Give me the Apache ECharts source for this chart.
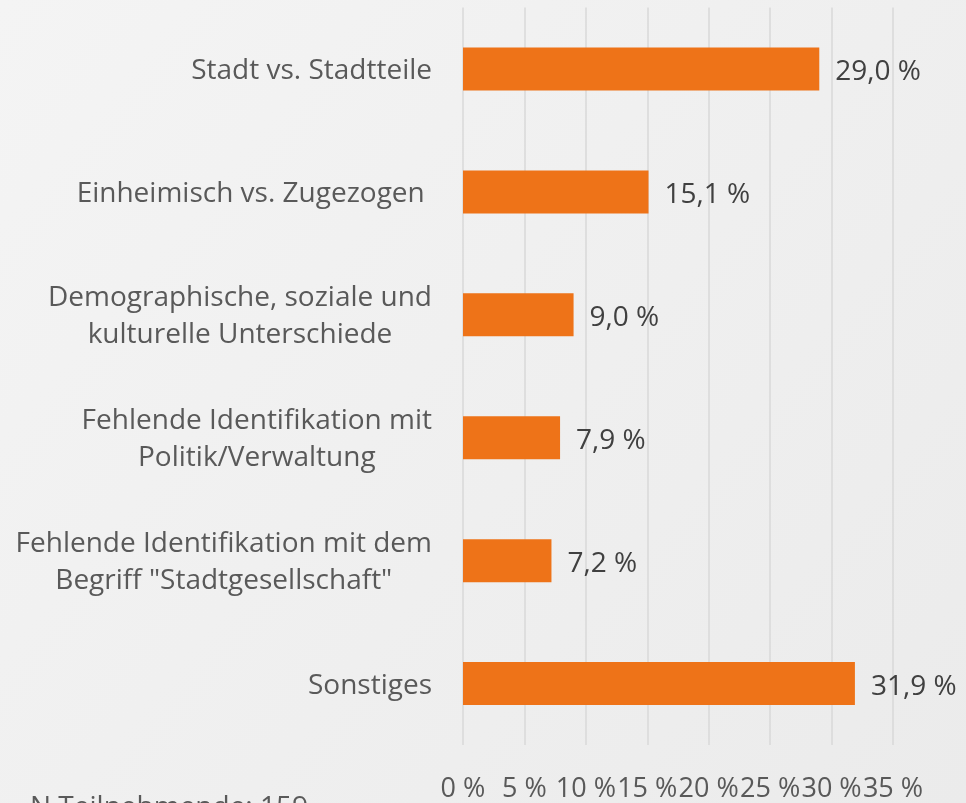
<!DOCTYPE html>
<html>
<head>
<meta charset="utf-8">
<script src="https://cdn.jsdelivr.net/npm/echarts@6/dist/echarts.min.js"></script>
<style>
html,body{margin:0;padding:0;width:966px;height:803px;overflow:hidden;}
#c{width:966px;height:803px;}
</style>
</head>
<body>
<div id="c"></div>
<script>
const categories = [
  "Stadt vs. Stadtteile",
  "Einheimisch vs. Zugezogen ",
  "Demographische, soziale und\nkulturelle Unterschiede",
  "Fehlende Identifikation mit\nPolitik/Verwaltung",
  "Fehlende Identifikation mit dem\nBegriff \"Stadtgesellschaft\"",
  "Sonstiges"
];
const values = [29.0, 15.1, 9.0, 7.9, 7.2, 31.9];
const footnote = "N Teilnehmende: 159";

const FONT = "Open Sans";
const chart = echarts.init(document.getElementById('c'), null, {renderer: 'canvas'});
chart.setOption({
  backgroundColor: {
    type: 'linear', x: 0, y: 0, x2: 1, y2: 1,
    colorStops: [{offset: 0, color: '#f4f4f4'}, {offset: 1, color: '#ebebeb'}]
  },
  animation: false,
  grid: {left: 463, right: 73, top: 7.5, bottom: 57.5, containLabel: false},
  xAxis: {
    type: 'value', min: 0, max: 35, interval: 5,
    axisLine: {show: false}, axisTick: {show: false},
    splitLine: {show: true, lineStyle: {color: '#d9d9d9', width: 1.5}},
    axisLabel: {
      margin: 31, fontFamily: FONT, fontSize: 27, color: '#595959',
      formatter: v => v + ' %'
    }
  },
  yAxis: {
    type: 'category', data: categories, inverse: true,
    axisLine: {show: false}, axisTick: {show: false},
    axisLabel: {
      margin: 31, fontFamily: FONT, fontSize: 28, color: '#595959', lineHeight: 37,
      formatter: v => v.split('\n').map(s => '{c|' + s + '}').join('\n'),
      rich: {c: {align: 'center', fontFamily: FONT, fontSize: 28, color: '#595959', lineHeight: 37, padding: [4, 0, 0, 0]}}
    }
  },
  series: [{
    type: 'bar', data: values, barWidth: 43,
    itemStyle: {color: '#ee7318'},
    label: {
      show: true, position: 'right', distance: 15, offset: [1, 3],
      fontFamily: FONT, fontSize: 28, color: '#404040',
      formatter: p => p.value.toFixed(1).replace('.', ',') + ' %'
    }
  }],
  graphic: [{
    type: 'text', left: 30, top: 794,
    style: {text: footnote, fontFamily: FONT, fontSize: 28, fill: '#595959'}
  }]
});
</script>
</body>
</html>
